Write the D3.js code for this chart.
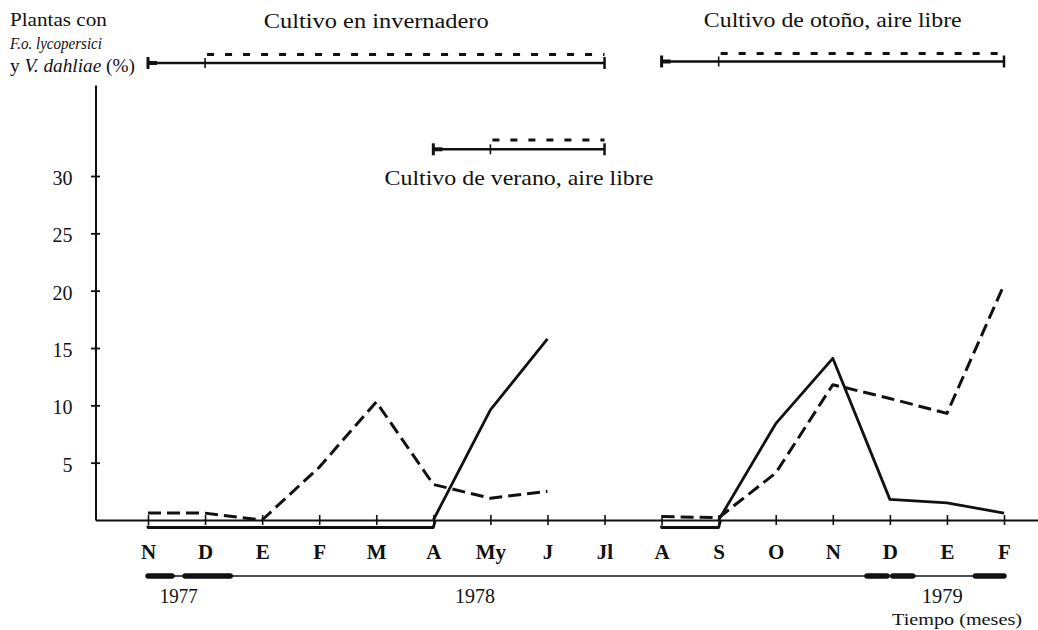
<!DOCTYPE html>
<html>
<head>
<meta charset="utf-8">
<script src="https://cdn.jsdelivr.net/npm/d3@7"></script>
<style>
  body { margin: 0; background: #fff; }
  svg { display: block; }
  text { font-family: "Liberation Serif", "Times New Roman", serif; fill: #111; }
</style>
</head>
<body>
<svg id="chart" width="1038" height="630"></svg>
<script>
// Meses de noviembre 1977 a febrero 1979
const months = ["N","D","E","F","M","A","My","J","Jl","A","S","O","N","D","E","F"];

// Porcentaje de plantas afectadas (null = sin cultivo)
const lineaContinua = [0, 0, 0, 0, 0, 0, 9.6, 15.8, null, 0, 0, 8.4, 14.1, 1.8, 1.5, 0.6];
const lineaTrazos   = [0.6, 0.6, 0, 4.6, 10.3, 3.1, 1.9, 2.5, null, 0.3, 0.2, 4.1, 11.8, 10.6, 9.3, 20.5];

const yTicks = [5, 10, 15, 20, 25, 30];

// Periodos de cultivo (índices de mes)
const cropNames = ["Cultivo en invernadero", "Cultivo de verano, aire libre", "Cultivo de otoño, aire libre"];
const cropStart = [0, 5, 9];
const cropMid   = [1, 6, 10];
const cropEnd   = [8, 8, 15];

// Años bajo el eje
const years  = ["1977", "1978", "1979"];
const yearAt = [0.54, 5.73, 13.92];
const yearMarks = [[0, 0.42], [0.65, 1.44], [12.6, 12.95], [13.05, 13.4], [14.5, 15]];

const svg = d3.select("#chart");
const ink = "#111";

const x = d3.scaleLinear().domain([0, 15]).range([148, 1004]);
const y = d3.scaleLinear().domain([0, 30]).range([520, 176]);
const x0 = 95.5;

// stretch a text horizontally to a given width around its x anchor
function fit(sel, width) {
  sel.each(function () {
    const w = this.getComputedTextLength();
    const ax = +this.getAttribute("x");
    const s = width / w;
    this.setAttribute("transform", `translate(${ax},0) scale(${s},1) translate(${-ax},0)`);
  });
}

// ---- Eje X ----
const xAxisScale = x.copy().domain([x.invert(x0), x.invert(1038)]).range([x0, 1038]);
const gx = svg.append("g").attr("transform", `translate(0,${y(0)})`)
  .call(d3.axisBottom(xAxisScale).tickValues(d3.range(months.length)).tickSizeOuter(0).tickFormat(i => months[i]));
gx.select(".domain").attr("stroke", ink).attr("stroke-width", 2);
gx.selectAll(".tick line").attr("stroke", ink).attr("stroke-width", 1.6).attr("y1", -5).attr("y2", 5);
gx.selectAll(".tick text")
  .attr("y", 39).attr("dy", 0)
  .style("font-family", '"Liberation Serif", serif')
  .style("font-size", "21px").style("font-weight", "bold").attr("fill", ink);

// ---- Eje Y ----
const yAxisScale = y.copy().domain([0, y.invert(85)]).range([y(0), 85]);
const gy = svg.append("g").attr("transform", `translate(${x0},0)`)
  .call(d3.axisLeft(yAxisScale).tickValues(yTicks).tickSizeOuter(0).tickSizeInner(0).tickPadding(23));
gy.select(".domain").attr("stroke", ink).attr("stroke-width", 2);
gy.selectAll(".tick line").attr("stroke", ink).attr("stroke-width", 1.8).attr("x1", -4.5).attr("x2", 4.5);
gy.selectAll(".tick text")
  .attr("dy", "0.42em")
  .style("font-family", '"Liberation Serif", serif')
  .style("font-size", "20px").attr("fill", ink);

// ---- Título del eje Y ----
const t1 = svg.append("text").attr("x", 10).attr("y", 26).style("font-size", "18px").text("Plantas con");
fit(t1, 97);
const t2 = svg.append("text").attr("x", 10).attr("y", 49).style("font-size", "17.5px").style("font-style", "italic").text("F.o. lycopersici");
fit(t2, 92);
const t3 = svg.append("text").attr("x", 10).attr("y", 72).style("font-size", "18px");
t3.append("tspan").text("y ");
t3.append("tspan").style("font-style", "italic").text("V. dahliae");
t3.append("tspan").text(" (%)");
fit(t3, 125);

// ---- Periodos de cultivo ----
const cropLayout = [
  { solid: 63, dotted: 54.5, title: 28, width: 225 },
  { solid: 149.3, dotted: 140, title: 185, width: 269 },
  { solid: 61.5, dotted: 53.5, title: 27.5, width: 258 }
];
cropNames.forEach((name, i) => {
  const L = cropLayout[i];
  const g = svg.append("g").attr("stroke", ink).attr("fill", "none");
  const xs = x(cropStart[i]), xm = x(cropMid[i]), xe = x(cropEnd[i]);
  g.append("line").attr("x1", xs).attr("x2", xe).attr("y1", L.solid).attr("y2", L.solid).attr("stroke-width", 2.5);
  g.append("line").attr("x1", xs).attr("x2", xs + 9).attr("y1", L.solid).attr("y2", L.solid).attr("stroke-width", 4);
  g.append("line").attr("x1", xs).attr("x2", xs).attr("y1", L.solid - 6).attr("y2", L.solid + 6).attr("stroke-width", 3);
  g.append("line").attr("x1", xm).attr("x2", xm).attr("y1", L.solid - 5).attr("y2", L.solid + 5).attr("stroke-width", 1.6);
  g.append("line").attr("x1", xe).attr("x2", xe).attr("y1", L.solid - 6).attr("y2", L.solid + 6).attr("stroke-width", 2.5);
  g.append("line").attr("x1", xm + 2).attr("x2", xe).attr("y1", L.dotted).attr("y2", L.dotted)
    .attr("stroke-width", 3).attr("stroke-dasharray", "7,11");
  const t = svg.append("text").attr("x", (xs + xe) / 2).attr("y", L.title)
    .attr("text-anchor", "middle").style("font-size", "20px").text(name);
  fit(t, L.width);
});

// ---- Series ----
const idx = d3.range(months.length);

function drawSeries(values, dash, width) {
  // tramos con valor nulo en ambos extremos se dibujan bajo el eje
  const segs = [];
  idx.slice(0, -1).forEach(i => {
    const a = values[i], b = values[i + 1];
    if (a == null || b == null) return;
    segs.push({ i, a, b, zero: a === 0 && b === 0 });
  });
  const line = d3.line().x(d => x(d[0])).y(d => y(d[1]));
  // tramos normales, agrupados en recorridos continuos
  let run = [];
  const runs = [];
  segs.forEach(s => {
    if (s.zero) { if (run.length) runs.push(run); run = []; return; }
    if (!run.length || run[run.length - 1][0] !== s.i) {
      if (run.length) runs.push(run);
      run = [[s.i, s.a]];
    }
    run.push([s.i + 1, s.b]);
  });
  if (run.length) runs.push(run);
  runs.forEach(r => {
    svg.append("path").attr("d", line(r)).attr("fill", "none").attr("stroke", ink)
      .attr("stroke-width", width).attr("stroke-dasharray", dash).attr("stroke-linejoin", "round");
  });
  // tramos en cero
  const zeroRuns = [];
  let z = null;
  segs.forEach(s => {
    if (s.zero) {
      if (z && z[1] === s.i) z[1] = s.i + 1; else { z = [s.i, s.i + 1]; zeroRuns.push(z); }
    }
  });
  zeroRuns.forEach(([a, b]) => {
    const yy = y(0) + 7.5;
    svg.append("path")
      .attr("d", `M${x(a)},${yy - 2}L${x(a)},${yy}L${x(b)},${yy}L${x(b) + 2},${y(0)}`)
      .attr("fill", "none").attr("stroke", ink).attr("stroke-width", width)
      .attr("stroke-dasharray", dash).attr("stroke-linejoin", "round");
  });
}
drawSeries(lineaTrazos, "13,6", 3);
drawSeries(lineaContinua, null, 2.8);

// ---- Línea de años ----
const yy = 576;
svg.append("line").attr("x1", x(0)).attr("x2", x(15)).attr("y1", yy).attr("y2", yy)
  .attr("stroke", ink).attr("stroke-width", 1.3);
yearMarks.forEach(([a, b]) => {
  svg.append("line").attr("x1", x(a)).attr("x2", x(b)).attr("y1", yy).attr("y2", yy)
    .attr("stroke", ink).attr("stroke-width", 5.5).attr("stroke-linecap", "round");
});
const yearW = [38, 40, 41];
years.forEach((yr, i) => {
  const t = svg.append("text").attr("x", x(yearAt[i])).attr("y", 603)
    .attr("text-anchor", "middle").style("font-size", "20px").text(yr);
  fit(t, yearW[i]);
});
const tt = svg.append("text").attr("x", 957).attr("y", 625).attr("text-anchor", "middle")
  .style("font-size", "16px").text("Tiempo (meses)");
fit(tt, 130);
</script>
</body>
</html>
